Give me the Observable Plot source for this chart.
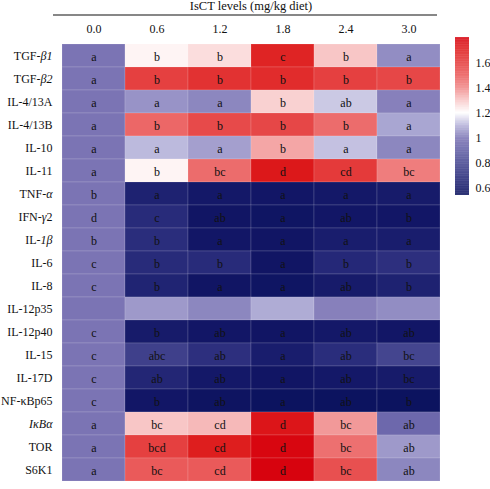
<!DOCTYPE html>
<html>
<head>
<meta charset="utf-8">
<script src="https://cdn.jsdelivr.net/npm/d3@7"></script>
<script src="https://cdn.jsdelivr.net/npm/@observablehq/plot@0.6"></script>
<style>
  body { margin: 0; background: #fff; }
  #wrap { position: relative; width: 490px; height: 489px; }
  #bar { position: absolute; left: 455px; top: 37px; }
</style>
</head>
<body>
<div id="wrap"><div id="main"></div><div id="bar"></div></div>
<script>
const title = "IsCT levels (mg/kg diet)";
const doses = ["0.0", "0.6", "1.2", "1.8", "2.4", "3.0"];
const genes = ["TGF-β1", "TGF-β2", "IL-4/13A", "IL-4/13B", "IL-10", "IL-11", "TNF-α", "IFN-γ2", "IL-1β", "IL-6", "IL-8", "IL-12p35", "IL-12p40", "IL-15", "IL-17D", "NF-κBp65", "IκBα", "TOR", "S6K1"];
const italicParts = {"TGF-β1": "β1", "TGF-β2": "β2", "TNF-α": "α", "IFN-γ2": "γ", "IL-1β": "1β", "IκBα": "IκBα"};

// relative expression, one row per gene, columns follow doses
const values = [
  [1.00, 1.22, 1.26, 1.68, 1.30, 1.04],
  [1.00, 1.58, 1.63, 1.65, 1.58, 1.56],
  [1.00, 1.05, 1.03, 1.28, 1.13, 1.02],
  [1.00, 1.47, 1.55, 1.56, 1.46, 1.08],
  [1.00, 1.11, 1.07, 1.35, 1.12, 1.03],
  [1.00, 1.22, 1.46, 1.72, 1.60, 1.42],
  [1.00, 0.65, 0.61, 0.60, 0.61, 0.62],
  [1.00, 0.69, 0.59, 0.58, 0.60, 0.60],
  [1.00, 0.70, 0.60, 0.59, 0.63, 0.63],
  [1.00, 0.69, 0.69, 0.59, 0.68, 0.71],
  [1.00, 0.66, 0.59, 0.58, 0.62, 0.65],
  [1.00, 1.06, 1.03, 1.09, 1.02, 1.04],
  [1.00, 0.62, 0.60, 0.59, 0.61, 0.60],
  [1.00, 0.78, 0.71, 0.63, 0.70, 0.80],
  [1.00, 0.67, 0.61, 0.59, 0.61, 0.62],
  [1.00, 0.60, 0.57, 0.56, 0.56, 0.56],
  [1.00, 1.30, 1.32, 1.73, 1.37, 0.95],
  [1.00, 1.58, 1.70, 1.78, 1.45, 1.06],
  [1.00, 1.50, 1.50, 1.79, 1.53, 1.03]
];
const letters = [
  ["a", "b", "b", "c", "b", "a"],
  ["a", "b", "b", "b", "b", "b"],
  ["a", "a", "a", "b", "ab", "a"],
  ["a", "b", "b", "b", "b", "a"],
  ["a", "a", "a", "b", "a", "a"],
  ["a", "b", "bc", "d", "cd", "bc"],
  ["b", "a", "a", "a", "a", "a"],
  ["d", "c", "ab", "a", "ab", "b"],
  ["b", "b", "a", "a", "a", "a"],
  ["c", "b", "b", "a", "b", "b"],
  ["c", "b", "a", "a", "ab", "b"],
  ["", "", "", "", "", ""],
  ["c", "b", "ab", "a", "ab", "ab"],
  ["c", "abc", "ab", "a", "ab", "bc"],
  ["c", "ab", "ab", "a", "ab", "bc"],
  ["c", "b", "ab", "a", "ab", "b"],
  ["a", "bc", "cd", "d", "bc", "ab"],
  ["a", "bcd", "cd", "d", "bc", "ab"],
  ["a", "bc", "cd", "d", "bc", "ab"]
];
const colorTicks = [0.6, 0.8, 1, 1.2, 1.4, 1.6];

const colorDomain = [0.545, 0.6, 0.7, 0.8, 0.9, 1.0, 1.1, 1.2, 1.3, 1.4, 1.5, 1.6, 1.7, 1.8];
const colorRange = ["#0a125d", "#121666", "#2a2d7c", "#44458f", "#5f5ca3", "#7b74b4", "#b5b2d9", "#ffffff",
                    "#f8c6c6", "#f08686", "#ea5a5a", "#e43a3a", "#de1e1e", "#d6000c"];
const colorScale = {type: "linear", domain: colorDomain, range: colorRange, interpolate: "rgb", clamp: true};

const table = [];
genes.forEach((g, i) => doses.forEach((d, j) => table.push({gene: g, dose: d, value: values[i][j], letter: letters[i][j]})));

const font = "'Liberation Serif', 'Times New Roman', serif";

const chart = Plot.plot({
  width: 490,
  height: 489,
  marginLeft: 59,
  marginRight: 48,
  marginTop: 37,
  marginBottom: 2,
  style: {fontFamily: font, fontSize: "12px", background: "#fff", color: "#111"},
  x: {domain: doses, axis: "top", label: null, tickSize: 0, tickPadding: 5, padding: 0},
  y: {domain: genes, label: null, tickSize: 0, tickPadding: 7, padding: 0},
  color: colorScale,
  marks: [
    Plot.cell(table, {x: "dose", y: "gene", fill: "value", stroke: "#ffffff", strokeOpacity: 0.18, strokeWidth: 0.8}),
    Plot.text(table, {x: "dose", y: "gene", text: "letter", fill: "#111", fontSize: 12, dy: 1}),
    Plot.text([title], {frameAnchor: "top", dy: -36, text: d => d, fontSize: 12.5, fill: "#111"})
  ]
});

// rule under the title, placed from the x scale's range
const xs = chart.scale("x");
d3.select(chart).append("line")
  .attr("x1", xs.range[0] - 6).attr("x2", xs.range[1] - 5)
  .attr("y1", 15).attr("y2", 15)
  .attr("stroke", "#111").attr("stroke-width", 1.2);

// italic segments in row labels
d3.select(chart).selectAll("g[aria-label='y-axis tick label'] text").each(function() {
  const t = d3.select(this);
  const label = t.text();
  const it = italicParts[label];
  if (!it) return;
  const k = label.indexOf(it);
  const pre = label.slice(0, k), post = label.slice(k + it.length);
  t.text(null);
  if (pre) t.append("tspan").text(pre);
  t.append("tspan").attr("font-style", "italic").text(it);
  if (post) t.append("tspan").text(post);
});

document.getElementById("main").appendChild(chart);

// vertical colour bar
const barStops = d3.range(0.545, 1.8, 0.005);
const bar = Plot.plot({
  width: 35,
  height: 158,
  marginLeft: 0,
  marginRight: 21,
  marginTop: 0,
  marginBottom: 0,
  style: {fontFamily: font, fontSize: "12px", background: "transparent", color: "#111", overflow: "visible"},
  x: {domain: [0, 1], axis: null},
  y: {domain: [0.545, 1.8], axis: "right", ticks: colorTicks, tickSize: 0, tickPadding: 6, label: null,
      tickFormat: d => d === 1 ? "1" : d.toFixed(1)},
  color: colorScale,
  marks: [
    Plot.rect(barStops, {x1: 0, x2: 1, y1: d => d, y2: d => Math.min(d + 0.006, 1.8), fill: d => d + 0.0025})
  ]
});
document.getElementById("bar").appendChild(bar);
</script>
</body>
</html>
